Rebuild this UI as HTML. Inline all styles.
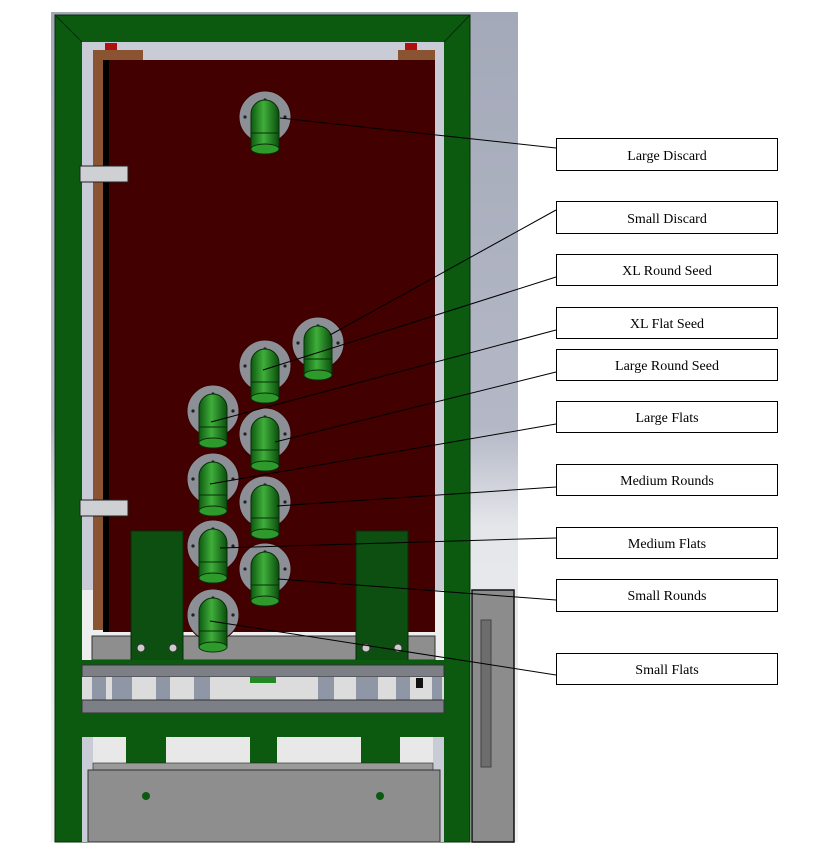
<!DOCTYPE html>
<html><head><style>
html,body{margin:0;padding:0;background:#fff;}
svg{display:block;}
text{font-family:"Liberation Serif",serif;font-size:14px;}
</style></head><body>
<svg width="826" height="858" viewBox="0 0 826 858" xmlns="http://www.w3.org/2000/svg">
<defs>
<linearGradient id="bg" x1="0" y1="0" x2="0" y2="1">
<stop offset="0" stop-color="#a4a9b9"/><stop offset="0.5" stop-color="#b4b8c6"/><stop offset="0.62" stop-color="#e4e6ea"/><stop offset="1" stop-color="#f2f2f2"/>
</linearGradient>
<linearGradient id="tube" x1="0" y1="0" x2="1" y2="0">
<stop offset="0" stop-color="#0d5a10"/><stop offset="0.45" stop-color="#3fae3a"/><stop offset="1" stop-color="#0b4d0e"/>
</linearGradient>
<g id="hole">
<circle cx="0" cy="0" r="26" fill="#8d8f96" stroke="#3a0000" stroke-width="1"/>
<circle cx="0" cy="-17" r="1.6" fill="#222"/><circle cx="-20" cy="0" r="1.6" fill="#222"/><circle cx="20" cy="0" r="1.6" fill="#222"/>
<path d="M-14,-3 A14,14 0 0 1 14,-3 L14,32 L-14,32 Z" fill="url(#tube)" stroke="#063006" stroke-width="1"/>
<ellipse cx="0" cy="32" rx="14" ry="5" fill="#2f9a2c" stroke="#063006"/>
<line x1="-14" y1="16" x2="14" y2="16" stroke="#063006"/>
</g>
</defs>
<rect x="51" y="12" width="467" height="830" fill="url(#bg)"/>
<!-- frame -->
<rect x="55" y="15" width="415" height="827" fill="#0b5a10" stroke="#062e08"/>
<rect x="82" y="42" width="362" height="800" fill="#c9ccd6"/>
<rect x="82" y="590" width="362" height="70" fill="#eeeeef"/>
<line x1="55" y1="15" x2="82" y2="42" stroke="#062e08"/><line x1="470" y1="15" x2="444" y2="42" stroke="#062e08"/>
<!-- board -->
<rect x="93" y="50" width="50" height="10" fill="#8a5433"/>
<rect x="398" y="50" width="37" height="10" fill="#8a5433"/>
<rect x="105" y="43" width="12" height="7" fill="#b01010"/>
<rect x="405" y="43" width="12" height="7" fill="#b01010"/>
<rect x="93" y="60" width="10" height="570" fill="#8a5433"/>
<rect x="103" y="60" width="6" height="572" fill="#000"/>
<rect x="109" y="60" width="326" height="572" fill="#420000"/>
<rect x="80" y="166" width="48" height="16" fill="#cfd0d4" stroke="#222"/>
<rect x="80" y="500" width="48" height="16" fill="#cfd0d4" stroke="#222"/>
<!-- holes -->
<use href="#hole" x="265" y="117"/>
<use href="#hole" x="318" y="343"/>
<use href="#hole" x="265" y="366"/>
<use href="#hole" x="213" y="411"/>
<use href="#hole" x="265" y="434"/>
<use href="#hole" x="213" y="479"/>
<use href="#hole" x="265" y="502"/>
<!-- green plates -->
<rect x="92" y="636" width="343" height="24" fill="#8e8e8e" stroke="#333"/>
<rect x="131" y="531" width="52" height="130" fill="#0c4f10" stroke="#062e08"/>
<rect x="356" y="531" width="52" height="130" fill="#0c4f10" stroke="#062e08"/>
<circle cx="141" cy="648" r="4" fill="#ccc" stroke="#333"/><circle cx="173" cy="648" r="4" fill="#ccc" stroke="#333"/>
<circle cx="366" cy="648" r="4" fill="#ccc" stroke="#333"/><circle cx="398" cy="648" r="4" fill="#ccc" stroke="#333"/>
<use href="#hole" x="213" y="546"/>
<use href="#hole" x="265" y="569"/>
<use href="#hole" x="213" y="615"/>
<!-- rails -->
<rect x="82" y="660" width="362" height="5" fill="#0b5a10"/>
<rect x="82" y="665" width="362" height="12" fill="#7d7f86" stroke="#333"/>
<rect x="82" y="677" width="362" height="23" fill="#dcdcdc"/>
<g fill="#8f96a6">
<rect x="92" y="677" width="14" height="23"/><rect x="112" y="677" width="20" height="23"/><rect x="156" y="677" width="14" height="23"/><rect x="194" y="677" width="16" height="23"/><rect x="318" y="677" width="16" height="23"/><rect x="356" y="677" width="22" height="23"/><rect x="396" y="677" width="14" height="23"/><rect x="432" y="677" width="10" height="23"/>
</g>
<rect x="250" y="677" width="26" height="6" fill="#1f8a24"/>
<rect x="416" y="678" width="7" height="10" fill="#111"/>
<rect x="82" y="700" width="362" height="13" fill="#7d7f86" stroke="#333"/>
<rect x="82" y="713" width="362" height="24" fill="#0b5a10"/>
<rect x="93" y="737" width="340" height="26" fill="#e8e8e8"/>
<rect x="126" y="737" width="40" height="33" fill="#0b5a10"/>
<rect x="250" y="737" width="27" height="26" fill="#0b5a10"/>
<rect x="361" y="737" width="39" height="33" fill="#0b5a10"/>
<rect x="93" y="763" width="340" height="7" fill="#9a9a9a" stroke="#222" stroke-width="0.6"/>
<rect x="88" y="770" width="352" height="72" fill="#8e8e8e" stroke="#333"/>
<circle cx="146" cy="796" r="4" fill="#0b5a10"/><circle cx="380" cy="796" r="4" fill="#0b5a10"/>
<!-- side panel -->
<rect x="472" y="590" width="42" height="252" fill="#8c8c8c" stroke="#111" stroke-width="1.5"/>
<rect x="481" y="620" width="10" height="147" fill="#6d6d6d" stroke="#444"/>
<!-- leader lines -->
<g stroke="#000" stroke-width="1" fill="none">
<line x1="556" y1="148" x2="280" y2="118"/>
<line x1="556" y1="210" x2="330" y2="335"/>
<line x1="556" y1="277" x2="263" y2="370"/>
<line x1="556" y1="330" x2="211" y2="422"/>
<line x1="556" y1="372" x2="275" y2="442"/>
<line x1="556" y1="424" x2="210" y2="484"/>
<line x1="556" y1="487" x2="277" y2="506"/>
<line x1="556" y1="538" x2="220" y2="548"/>
<line x1="556" y1="600" x2="278" y2="579"/>
<line x1="556" y1="675" x2="210" y2="621"/>
</g>
<!-- labels -->
<g fill="#fff" stroke="#000" stroke-width="1">
<rect x="556.5" y="138.5" width="221" height="32"/>
<rect x="556.5" y="201.5" width="221" height="32"/>
<rect x="556.5" y="254.5" width="221" height="31"/>
<rect x="556.5" y="307.5" width="221" height="31"/>
<rect x="556.5" y="349.5" width="221" height="31"/>
<rect x="556.5" y="401.5" width="221" height="31"/>
<rect x="556.5" y="464.5" width="221" height="31"/>
<rect x="556.5" y="527.5" width="221" height="31"/>
<rect x="556.5" y="579.5" width="221" height="32"/>
<rect x="556.5" y="653.5" width="221" height="31"/>
</g>
<g text-anchor="middle" fill="#000">
<text x="667" y="160">Large Discard</text>
<text x="667" y="223">Small Discard</text>
<text x="667" y="275">XL Round Seed</text>
<text x="667" y="328">XL Flat Seed</text>
<text x="667" y="370">Large Round Seed</text>
<text x="667" y="422">Large Flats</text>
<text x="667" y="485">Medium Rounds</text>
<text x="667" y="548">Medium Flats</text>
<text x="667" y="600">Small Rounds</text>
<text x="667" y="674">Small Flats</text>
</g>
</svg>
</body></html>
